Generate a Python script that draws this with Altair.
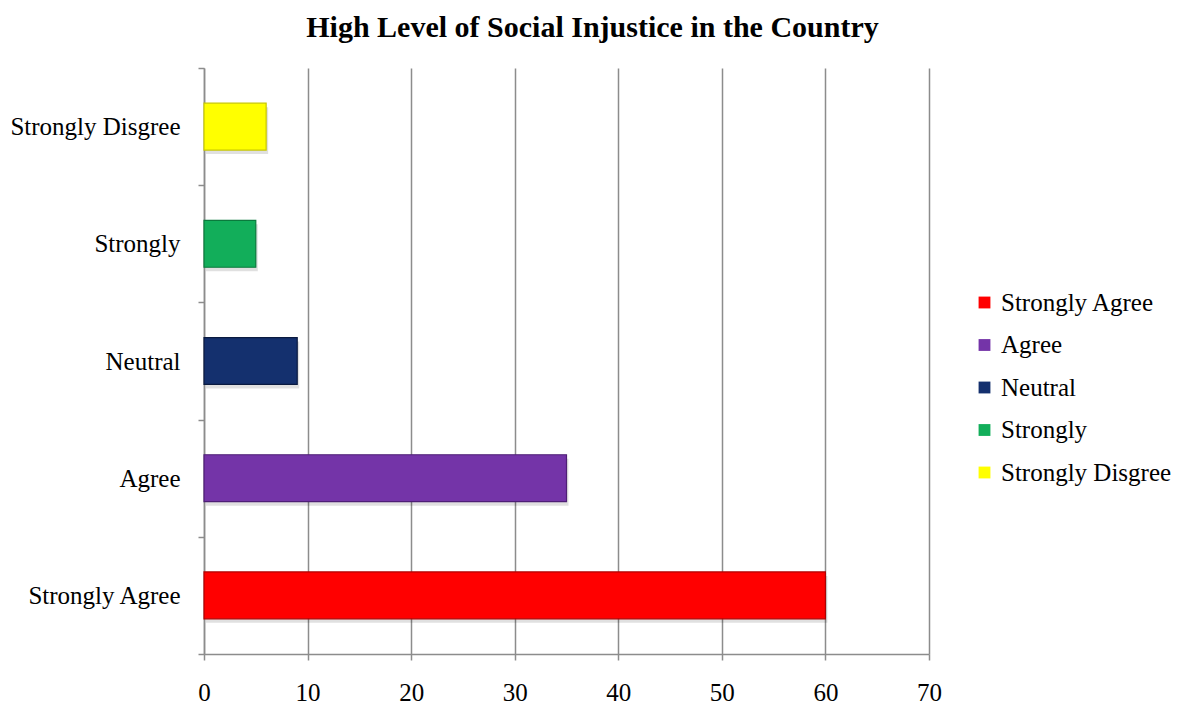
import altair as alt
import pandas as pd

categories = ["Strongly Agree", "Agree", "Neutral ", "Strongly ", "Strongly Disgree"]
legend_labels = ["Strongly Agree", "Agree", "Neutral", "Strongly", "Strongly Disgree"]
values = [60, 35, 9, 5, 6]
colors = ["#FF0000", "#7434A8", "#14306E", "#12AE5A", "#FFFF00"]
strokes = ["#B00000", "#4E1F75", "#0A1A40", "#0A7A3C", "#C8C800"]
x_ticks = [0, 10, 20, 30, 40, 50, 60, 70]

df = pd.DataFrame({"cat": categories, "legend": legend_labels, "value": values})

FONT = "Liberation Serif"

y_enc = alt.Y(
    "cat:N",
    sort=categories[::-1],
    scale=alt.Scale(paddingInner=0, paddingOuter=0),
    axis=alt.Axis(
        title=None,
        tickBand="extent",
        grid=False,
        domainColor="#8C8C8C",
        domainWidth=1.5,
        tickColor="#8C8C8C",
        tickWidth=1.5,
        tickSize=6,
        labelPadding=18,
        labelFont=FONT,
        labelFontSize=25,
        labelColor="#000000",
    ),
)
x_enc = alt.X(
    "value:Q",
    scale=alt.Scale(domain=[0, 70], nice=False),
    axis=alt.Axis(
        title=None,
        values=x_ticks,
        grid=True,
        gridColor="#8C8C8C",
        gridWidth=1.5,
        domainColor="#8C8C8C",
        domainWidth=1.5,
        tickColor="#8C8C8C",
        tickWidth=1.5,
        tickSize=6,
        labelPadding=20,
        labelFlush=False,
        labelFont=FONT,
        labelFontSize=25,
        labelColor="#000000",
    ),
)

base = alt.Chart(df)

shadow = base.mark_bar(
    height={"band": 0.4}, color="#000000", opacity=0.12, xOffset=2, yOffset=4
).encode(y=y_enc, x=x_enc)

bars = base.mark_bar(strokeWidth=1.2, height={"band": 0.4}).encode(
    y=y_enc,
    x=x_enc,
    color=alt.Color(
        "legend:N",
        scale=alt.Scale(domain=legend_labels, range=colors),
        sort=legend_labels,
        legend=alt.Legend(
            title=None,
            orient="none",
            legendX=768,
            legendY=222,
            padding=0,
            symbolType="square",
            symbolSize=140,
            symbolStrokeWidth=0,
            labelFont=FONT,
            labelFontSize=25,
            labelColor="#000000",
            labelOffset=4,
            rowPadding=16.5,
            labelLimit=300,
        ),
    ),
    stroke=alt.Stroke(
        "legend:N",
        scale=alt.Scale(domain=legend_labels, range=strokes),
        legend=None,
    ),
)

chart = alt.layer(shadow, bars).properties(
    width=725,
    height=586,
    title=alt.TitleParams(
        "High Level of Social Injustice in the Country",
        font=FONT,
        fontSize=30,
        fontWeight="bold",
        color="#000000",
        anchor="middle",
        offset=13,
        dx=26,
    ),
    autosize=alt.AutoSizeParams(type="none"),
    padding={"left": 204, "top": 68, "right": 248, "bottom": 50},
).configure_view(stroke=None)

chart.save("out.html", embed_options={"renderer": "svg", "actions": False})
